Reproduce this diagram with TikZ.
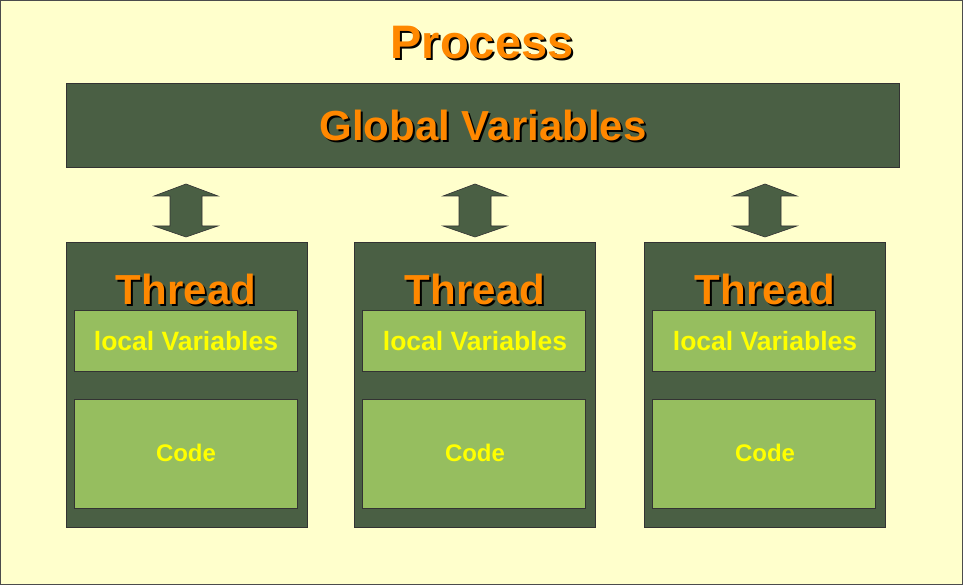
\documentclass[tikz,border=0pt]{standalone}
\usepackage{fontspec}
\setmainfont{Liberation Sans}
\definecolor{bgyellow}{HTML}{FFFFCC}
\definecolor{darkgreen}{HTML}{4A5F44}
\definecolor{lightgreen}{HTML}{96BE5F}
\definecolor{orangetxt}{HTML}{FF8800}
\definecolor{yellowtxt}{HTML}{FFFF00}
\newcommand{\shadowed}[1]{\makebox[0pt][l]{\hspace{2pt}\raisebox{-2pt}{\color{black}#1}}#1}
\tikzset{
  darkbox/.style={draw=black!80,line width=0.8pt,fill=darkgreen},
  lightbox/.style={draw=black!80,line width=1pt,fill=lightgreen},
  orangelabel/.style={font=\bfseries\fontsize{#1}{#1}\selectfont,text=orangetxt,inner sep=0pt},
  yellowlabel/.style={font=\bfseries\fontsize{#1}{#1}\selectfont,text=yellowtxt,inner sep=0pt},
  blockarrow/.style={draw=black!80,line width=0.6pt,fill=darkgreen},
}
\begin{document}
\begin{tikzpicture}[x=1pt,y=-1pt]
\useasboundingbox (0,0) rectangle (963,585);
\fill[bgyellow] (0,0) rectangle (963,585);
\draw[black!70,line width=0.8pt] (0.5,0.5) rectangle (962.5,584.5);

% Process title
\node[orangelabel=47] (process) at (482,44) {\shadowed{Process}};

% Global variables
\draw[darkbox] (66,83) rectangle (899,167);
\node[orangelabel=42] (global) at (483,126) {\shadowed{Global Variables}};

% Threads
\foreach \i/\bx/\cx in {1/66/186, 2/354/475, 3/644/765}{
  \draw[darkbox] (\bx,242) rectangle ++(241,285);
  \node[orangelabel=42] (thread\i) at (\cx,290) {\shadowed{Thread}};
  \draw[lightbox] (\bx+8,310) rectangle ++(223,61);
  \node[yellowlabel=26.5] (local\i) at (\cx,341) {local Variables};
  \draw[lightbox] (\bx+8,399) rectangle ++(223,109);
  \node[yellowlabel=24] (code\i) at (\cx,453) {Code};
  % double block arrow
  \coordinate (atop\i) at (\cx,184);
  \draw[blockarrow] (atop\i) -- ++(32,12) -- ++(-16,0) -- ++(0,30) -- ++(16,0)
     -- ++(-32,11) -- ++(-32,-11) -- ++(16,0) -- ++(0,-30) -- ++(-16,0) -- cycle;
}
\end{tikzpicture}
\end{document}
